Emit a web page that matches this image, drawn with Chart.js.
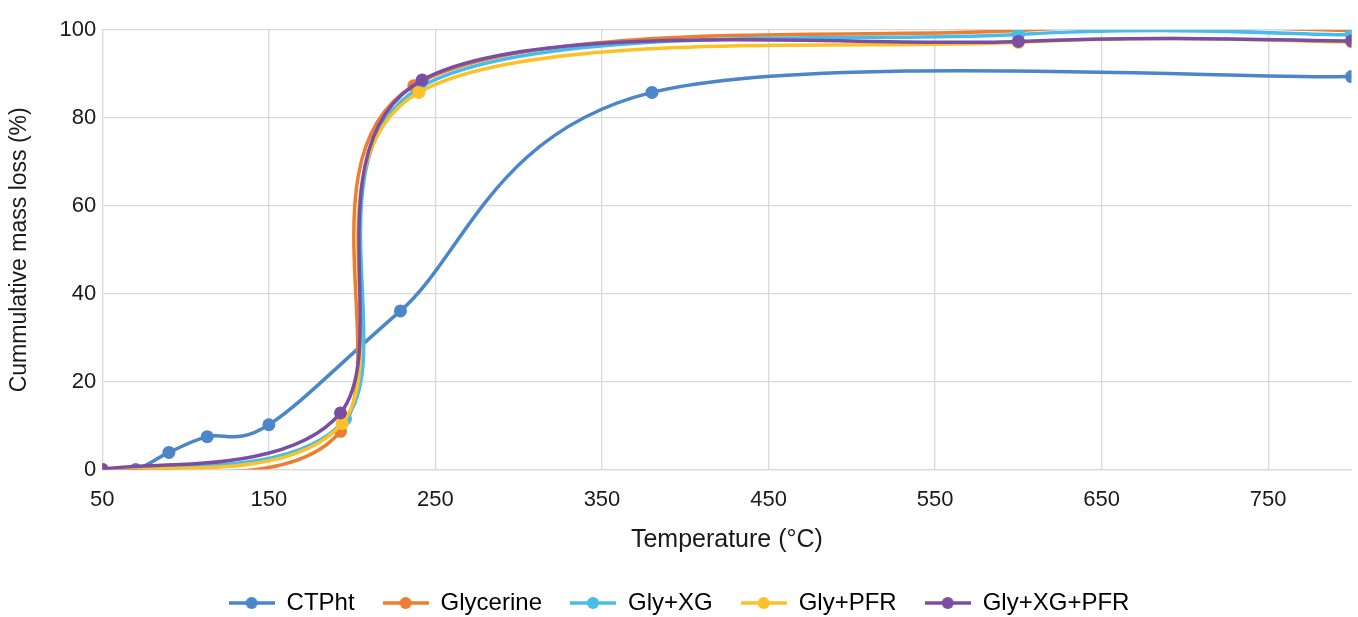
<!DOCTYPE html>
<html>
<head>
<meta charset="utf-8">
<script src="https://cdn.jsdelivr.net/npm/chart.js@4/dist/chart.umd.min.js"></script>
<style>
  html, body { margin: 0; padding: 0; background: #fff; }
  #wrap { width: 1358px; height: 617px; }
</style>
</head>
<body>
<div id="wrap"><canvas id="tgaChart" width="1358" height="617"></canvas></div>
<script>
// Donnees
const xTicks = [50, 150, 250, 350, 450, 550, 650, 750];

const ctphtTemp = [50, 70, 90, 113, 150, 229, 380, 800];
const ctphtLoss = [0, 0, 3.9, 7.5, 10.2, 36.1, 85.8, 89.4];

const glyTemp = [50, 193, 237, 600, 800];
const glyLoss = [0, 8.7, 87.3, 99.9, 99.9];

const glyXgTemp = [50, 196, 241, 600, 800];
const glyXgLoss = [0, 11.5, 87.0, 99.0, 98.9];

const glyPfrTemp = [50, 194, 240, 600, 800];
const glyPfrLoss = [0, 10.5, 85.8, 97.2, 97.3];

const glyXgPfrTemp = [50, 193, 242, 600, 800];
const glyXgPfrLoss = [0, 12.9, 88.6, 97.4, 97.5];

const seriesNames = ['CTPht', 'Glycerine', 'Gly+XG', 'Gly+PFR', 'Gly+XG+PFR'];
const seriesColors = ['#4a86c8', '#ed7d31', '#46bde8', '#fcc127', '#7a4fa3'];

const FONT = 'Liberation Sans';

function toPoints(xs, ys) {
    return xs.map((x, i) => ({ x: x, y: ys[i] }));
}

// Symbole de legende : trait + rond
function legendSymbol(color) {
    const c = document.createElement('canvas');
    c.width = 46;
    c.height = 16;
    const g = c.getContext('2d');
    g.strokeStyle = color;
    g.lineWidth = 3.5;
    g.beginPath();
    g.moveTo(0, 8);
    g.lineTo(46, 8);
    g.stroke();
    g.fillStyle = color;
    g.beginPath();
    g.arc(23, 8, 6, 0, Math.PI * 2);
    g.fill();
    return c;
}

// Lissage facon Excel : points de controle a 1/6 de la corde voisine
const excelSmooth = {
    id: 'excelSmooth',
    beforeDatasetDraw(chart, args) {
        const meta = args.meta;
        const pts = meta.data;
        meta.dataset.updateControlPoints(chart.chartArea);
        pts.forEach((p, i) => {
            const prev = pts[i - 1] || p;
            const next = pts[i + 1] || p;
            const dx = (next.x - prev.x) / 6;
            const dy = (next.y - prev.y) / 6;
            p.cp1x = p.x - dx;
            p.cp1y = p.y - dy;
            p.cp2x = p.x + dx;
            p.cp2y = p.y + dy;
        });
    }
};

const allTemps = [ctphtTemp, glyTemp, glyXgTemp, glyPfrTemp, glyXgPfrTemp];
const allLoss = [ctphtLoss, glyLoss, glyXgLoss, glyPfrLoss, glyXgPfrLoss];

const datasets = seriesNames.map((name, i) => ({
    label: name,
    data: toPoints(allTemps[i], allLoss[i]),
    borderColor: seriesColors[i],
    backgroundColor: seriesColors[i],
    borderWidth: 3.5,
    pointRadius: 6.5,
    pointHoverRadius: 6.5,
    pointBorderWidth: 0,
    tension: 0.35,
    order: 5 - i
}));

new Chart(document.getElementById('tgaChart'), {
    type: 'line',
    data: { datasets: datasets },
    plugins: [excelSmooth],
    options: {
        responsive: false,
        animation: false,
        layout: { padding: { left: 6, right: 6, top: 30, bottom: -8 } },
        plugins: {
            tooltip: { enabled: false },
            legend: {
                position: 'bottom',
                labels: {
                    font: { family: FONT, size: 24 },
                    color: '#1a1a1a',
                    usePointStyle: true,
                    pointStyleWidth: 46,
                    padding: 28,
                    generateLabels: (chart) => chart.data.datasets.map((ds, i) => ({
                        text: ds.label,
                        pointStyle: legendSymbol(ds.borderColor),
                        fillStyle: ds.borderColor,
                        strokeStyle: ds.borderColor,
                        lineWidth: 0,
                        hidden: false,
                        datasetIndex: i
                    }))
                }
            }
        },
        scales: {
            x: {
                type: 'linear',
                min: 50,
                max: 800,
                afterBuildTicks: (scale) => {
                    scale.ticks = xTicks.map(v => ({ value: v }));
                },
                grid: { color: '#d9d9d9', lineWidth: 1.3, drawTicks: false },
                border: { color: '#d9d9d9', width: 1.3 },
                ticks: {
                    font: { family: FONT, size: 22 },
                    color: '#1a1a1a',
                    padding: 17,
                    maxRotation: 0
                },
                title: {
                    display: true,
                    text: 'Temperature (°C)',
                    font: { family: FONT, size: 25 },
                    color: '#1a1a1a',
                    padding: { top: -5, bottom: 8 }
                }
            },
            y: {
                min: 0,
                max: 100,
                ticks: {
                    stepSize: 20,
                    font: { family: FONT, size: 22 },
                    color: '#1a1a1a',
                    padding: 6
                },
                grid: { color: '#d9d9d9', lineWidth: 1.3, drawTicks: false },
                border: { display: false },
                title: {
                    display: true,
                    text: 'Cummulative mass loss (%)',
                    font: { family: FONT, size: 23 },
                    color: '#1a1a1a',
                    padding: { top: 0, bottom: 20 }
                }
            }
        }
    }
});
</script>
</body>
</html>
